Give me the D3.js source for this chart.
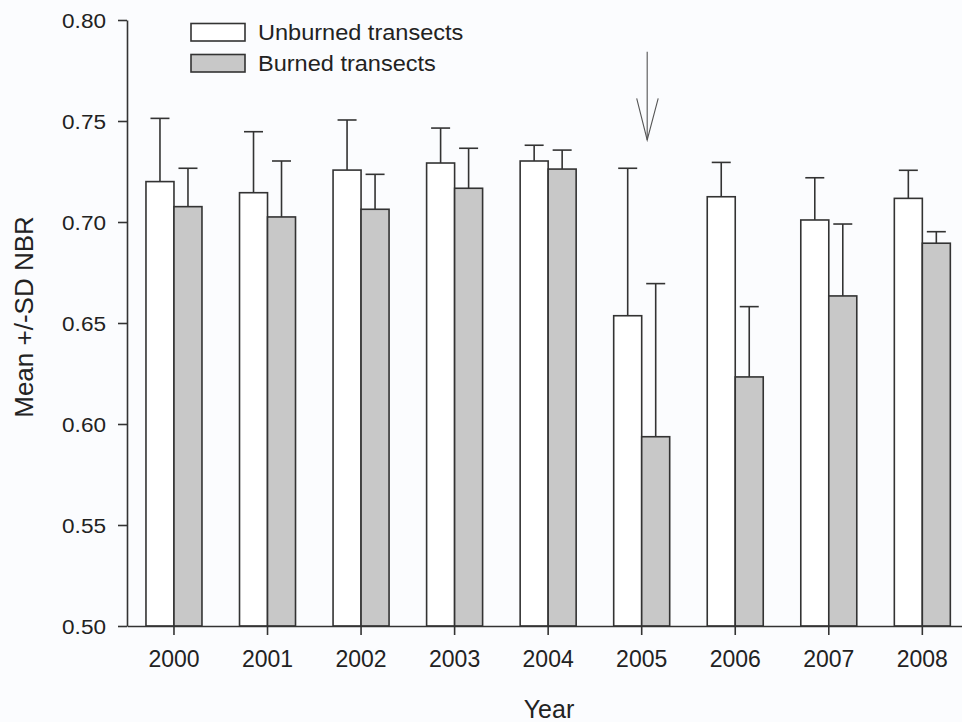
<!DOCTYPE html>
<html>
<head>
<meta charset="utf-8">
<script src="https://cdn.jsdelivr.net/npm/d3@7"></script>
<style>
  body { margin: 0; background: #fbfcfe; }
  text { font-family: "Liberation Sans", Arial, sans-serif; fill: #222; }
</style>
</head>
<body>
<script>
const years = ['2000', '2001', '2002', '2003', '2004', '2005', '2006', '2007', '2008']
const seriesNames = ['Unburned transects', 'Burned transects']
const unburnedMean = [0.720, 0.7145, 0.7257, 0.7292, 0.7302, 0.6536, 0.7125, 0.701, 0.7117]
const unburnedSD = [0.0313, 0.0302, 0.0248, 0.0173, 0.0078, 0.073, 0.017, 0.0209, 0.0139]
const burnedMean = [0.7076, 0.7025, 0.7063, 0.7167, 0.7262, 0.5937, 0.6233, 0.6634, 0.6895]
const burnedSD = [0.019, 0.0277, 0.0173, 0.0198, 0.0094, 0.0758, 0.0348, 0.0356, 0.0057]
const yTicks = [0.50, 0.55, 0.60, 0.65, 0.70, 0.75, 0.80]
// arrow marking the 2005 fire (value coords)
const arrowTop = 0.7843, arrowTip = 0.7406, arrowBarb = 0.7612

const width = 962, height = 722
const fills = ['#ffffff', '#c8c8c8']
const ink = '#333'

const y = d3.scaleLinear().domain([0.5, 0.8]).range([626, 20])
const x = d3.scaleBand().domain(years).range([127.2, 969.1])
const barW = 28

const svg = d3.select('body').append('svg').attr('width', width).attr('height', height)

// bars, one group per series
const series = [
  { mean: unburnedMean, sd: unburnedSD, off: -barW },
  { mean: burnedMean, sd: burnedSD, off: 0 }
]
series.forEach(function(s, k) {
  const g = svg.append('g')
  const rows = years.map(function(yr, i) { return { yr: yr, m: s.mean[i], sd: s.sd[i] } })
  const cx = function(d) { return x(d.yr) + x.bandwidth() / 2 + s.off + barW / 2 }
  // error bars (upper only)
  g.selectAll('line.err').data(rows).enter().append('line')
    .attr('x1', cx).attr('x2', cx)
    .attr('y1', function(d) { return y(d.m) }).attr('y2', function(d) { return y(d.m + d.sd) })
    .attr('stroke', ink).attr('stroke-width', 1.6)
  g.selectAll('line.cap').data(rows).enter().append('line')
    .attr('x1', function(d) { return cx(d) - 9.5 }).attr('x2', function(d) { return cx(d) + 9.5 })
    .attr('y1', function(d) { return y(d.m + d.sd) }).attr('y2', function(d) { return y(d.m + d.sd) })
    .attr('stroke', ink).attr('stroke-width', 1.6)
  g.selectAll('rect').data(rows).enter().append('rect')
    .attr('x', function(d) { return x(d.yr) + x.bandwidth() / 2 + s.off })
    .attr('width', barW)
    .attr('y', function(d) { return y(d.m) })
    .attr('height', function(d) { return y(0.5) - y(d.m) })
    .attr('fill', fills[k]).attr('stroke', ink).attr('stroke-width', 1.6)
})

// axes
const yAxis = d3.axisLeft(y).tickValues(yTicks).tickFormat(d3.format('.2f')).tickSize(9).tickSizeOuter(0)
const gy = svg.append('g').attr('transform', 'translate(127,0)').call(yAxis)
gy.selectAll('path, line').attr('stroke', ink).attr('stroke-width', 1.6)
gy.selectAll('text')
  .attr('x', 0).attr('dy', '0.35em')
  .attr('transform', 'translate(-21,0) scale(1.075,1)')
  .style('font-size', '21px').attr('fill', '#222')

const xAxis = d3.axisBottom(x).tickSize(9).tickSizeOuter(0).tickPadding(12)
const gx = svg.append('g').attr('transform', 'translate(0,626)').call(xAxis)
gx.selectAll('path, line').attr('stroke', ink).attr('stroke-width', 1.6)
gx.selectAll('text').attr('y', 41).attr('dy', 0).style('font-size', '23px').attr('fill', '#222')

// axis titles
svg.append('text').attr('x', 549).attr('y', 718).attr('text-anchor', 'middle')
  .style('font-size', '25px').text('Year')
svg.append('text').attr('transform', 'translate(33,317) rotate(-90)').attr('text-anchor', 'middle')
  .style('font-size', '26px').text('Mean +/-SD NBR')

// legend
const leg = svg.append('g').selectAll('g').data(seriesNames).enter().append('g')
  .attr('transform', function(d, i) { return 'translate(191,' + (23.5 + i * 31) + ')' })
leg.append('rect').attr('width', 54).attr('height', 17.5)
  .attr('fill', function(d, i) { return fills[i] }).attr('stroke', ink).attr('stroke-width', 1.6)
leg.append('text').attr('transform', 'translate(67,16.5) scale(1.07,1)')
  .style('font-size', '22px').text(function(d) { return d })

// arrow over 2005
const ax = x('2005') + x.bandwidth() / 2 + 5.5
const arrow = svg.append('g').attr('stroke', '#555').attr('stroke-width', 1.1).attr('fill', 'none')
arrow.append('line').attr('x1', ax).attr('x2', ax).attr('y1', y(arrowTop)).attr('y2', y(arrowTip))
arrow.append('path')
  .attr('d', 'M' + (ax - 10.5) + ',' + y(arrowBarb) + 'L' + ax + ',' + y(arrowTip) + 'L' + (ax + 11) + ',' + y(arrowBarb))
</script>
</body>
</html>
